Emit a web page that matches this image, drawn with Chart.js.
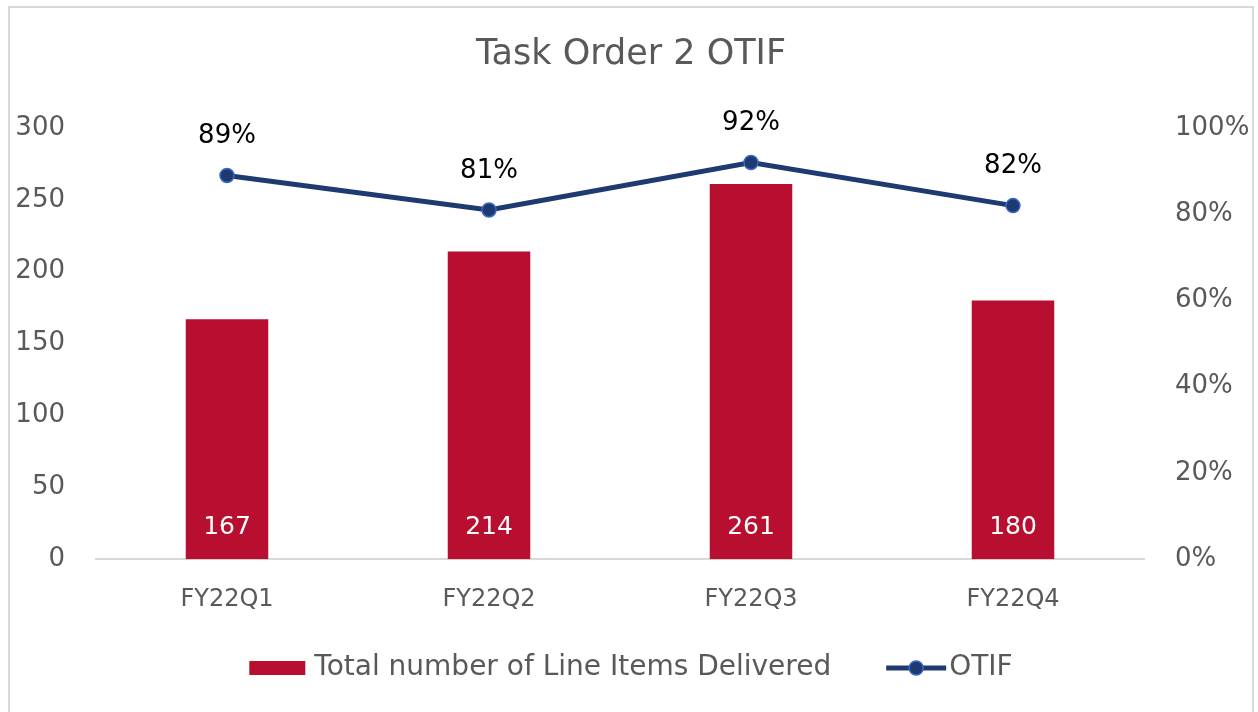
<!DOCTYPE html>
<html>
<head>
<meta charset="utf-8">
<script src="https://cdn.jsdelivr.net/npm/chart.js@4.4.1/dist/chart.umd.min.js"></script>
<style>
    body { margin: 0; background: #fff; }
    #frame {
        position: absolute;
        left: 8px; top: 6px;
        width: 1246px; height: 712px;
        border: 2px solid #d9d9d9;
        border-bottom: none;
        box-sizing: border-box;
    }
    #wrap { position: absolute; left: 0; top: 0; width: 1242px; height: 708px; }
</style>
</head>
<body>
<div id="frame"><div id="wrap"><canvas id="otif"></canvas></div></div>
<script>
const quarters = ["FY22Q1", "FY22Q2", "FY22Q3", "FY22Q4"];
const lineItems = [167, 214, 261, 180];
const otifPct = [89, 81, 92, 82];

const barColor = '#B80E2F';
const lineColor = '#1F3A70';
const textGray = '#595959';
const fontName = '"DejaVu Sans", "Open Sans", sans-serif';

// value labels on bars and points
const valueLabels = {
    id: 'valueLabels',
    afterDatasetsDraw(chart) {
        const ctx = chart.ctx;
        ctx.save();
        ctx.textAlign = 'center';
        ctx.textBaseline = 'middle';
        const bars = chart.getDatasetMeta(0).data;
        const base = chart.scales.y.getPixelForValue(0);
        ctx.font = '25px ' + fontName;
        ctx.fillStyle = '#ffffff';
        bars.forEach((b, i) => ctx.fillText(lineItems[i], b.x, base - 32));
        const pts = chart.getDatasetMeta(1).data;
        ctx.font = '26px ' + fontName;
        ctx.fillStyle = '#000000';
        pts.forEach((p, i) => ctx.fillText(otifPct[i] + '%', p.x, p.y - 39));
        ctx.restore();
    }
};

// legend drawn by hand under the axis
const bottomLegend = {
    id: 'bottomLegend',
    afterDraw(chart) {
        const ctx = chart.ctx;
        const sets = chart.data.datasets;
        ctx.save();
        ctx.font = '28px ' + fontName;
        ctx.textBaseline = 'middle';
        const y = 660;
        const barSym = 56, lineSym = 60, gapSym = 9, gapItems = 55;
        const w0 = ctx.measureText(sets[0].label).width;
        const w1 = ctx.measureText(sets[1].label).width;
        const total = barSym + gapSym + w0 + gapItems + lineSym + 3 + w1;
        let x = chart.width / 2 - total / 2;

        ctx.fillStyle = barColor;
        ctx.fillRect(x, y - 7, barSym, 14);
        x += barSym + gapSym;
        ctx.fillStyle = textGray;
        ctx.fillText(sets[0].label, x, y);
        x += w0 + gapItems;

        ctx.strokeStyle = lineColor;
        ctx.lineWidth = 5;
        ctx.beginPath(); ctx.moveTo(x, y); ctx.lineTo(x + lineSym, y); ctx.stroke();
        ctx.fillStyle = lineColor;
        ctx.beginPath(); ctx.arc(x + lineSym / 2, y, 7, 0, Math.PI * 2); ctx.fill();
        ctx.strokeStyle = '#3A68C8';
        ctx.lineWidth = 1.5;
        ctx.stroke();
        x += lineSym + 3;
        ctx.fillStyle = textGray;
        ctx.fillText(sets[1].label, x, y);
        ctx.restore();
    }
};

new Chart(document.getElementById('otif'), {
    data: {
        labels: quarters,
        datasets: [
            {
                type: 'bar',
                label: 'Total number of Line Items Delivered',
                data: lineItems,
                backgroundColor: barColor,
                barPercentage: 0.63,
                categoryPercentage: 0.5,
                yAxisID: 'y',
                order: 2
            },
            {
                type: 'line',
                label: 'OTIF',
                data: otifPct,
                borderColor: lineColor,
                backgroundColor: lineColor,
                borderWidth: 5,
                pointRadius: 7,
                pointBorderColor: '#3A68C8',
                pointBorderWidth: 1.5,
                tension: 0,
                yAxisID: 'y1',
                order: 1
            }
        ]
    },
    options: {
        responsive: true,
        maintainAspectRatio: false,
        animation: false,
        layout: { padding: { top: 20, bottom: 76, left: 0, right: 0 } },
        plugins: {
            title: {
                display: true,
                text: 'Task Order 2 OTIF',
                color: textGray,
                font: { family: fontName, size: 35, weight: 'normal' },
                padding: { top: 6, bottom: 52 }
            },
            legend: { display: false },
            tooltip: { enabled: false }
        },
        scales: {
            x: {
                grid: { display: false, drawTicks: false },
                border: { display: true, color: '#d9d9d9', width: 2 },
                ticks: { color: textGray, font: { family: fontName, size: 24 }, padding: 26 }
            },
            y: {
                position: 'left',
                min: 0, max: 300,
                grid: { display: false },
                border: { display: false },
                ticks: { stepSize: 50, color: textGray, font: { family: fontName, size: 26 }, padding: 23 },
                afterFit: function (axis) { axis.width = 86; }
            },
            y1: {
                position: 'right',
                min: 0, max: 100,
                grid: { display: false },
                border: { display: false },
                ticks: {
                    stepSize: 20, color: textGray, font: { family: fontName, size: 26 }, padding: 23,
                    callback: v => v + '%'
                },
                afterFit: function (axis) { axis.width = 108; }
            }
        }
    },
    plugins: [valueLabels, bottomLegend]
});
</script>
</body>
</html>
